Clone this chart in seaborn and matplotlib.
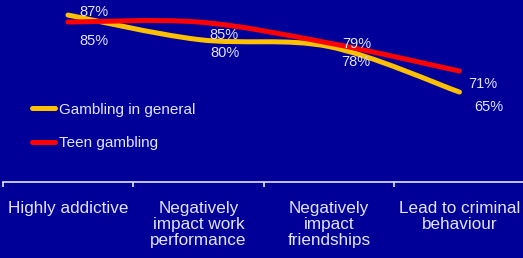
import matplotlib
matplotlib.use("Agg")
import matplotlib.pyplot as plt
from matplotlib.path import Path
from matplotlib.patches import PathPatch
import seaborn as sns
import pandas as pd

categories = ["Highly addictive", "Negatively\nimpact work\nperformance",
              "Negatively\nimpact\nfriendships", "Lead to criminal\nbehaviour"]
general = [87, 80, 78, 65]
teen = [85, 85, 79, 71]
series_names = ["Gambling in general", "Teen gambling"]

# label offsets (points) from each data point
general_offsets = [(19, 2), (19, -10), (19, -11), (21, -11)]
teen_offsets = [(19, -14), (18, -9), (20, -1), (17, -9)]

bg = "#000099"
txt = "#E4E4FF"
colors = {"Gambling in general": "#FFC000", "Teen gambling": "#FF0000"}

sns.set_theme(style="white")
plt.rcParams["font.family"] = ["Liberation Sans", "DejaVu Sans"]

df = pd.DataFrame({
    "pos": list(range(len(categories))) * 2,
    "value": general + teen,
    "series": [series_names[0]] * 4 + [series_names[1]] * 4,
})

fig = plt.figure(figsize=(5.23, 2.58), dpi=100, facecolor=bg)
ax = fig.add_axes([0, 76 / 258, 1, 182 / 258])
ax.set_facecolor(bg)

sns.lineplot(data=df, x="pos", y="value", hue="series", palette=colors,
             lw=3.6, ax=ax, legend=False)


def smooth_path(xs, ys, k=1 / 6):
    # Catmull-Rom style bezier through the data points
    n = len(xs)
    verts = [(xs[0], ys[0])]
    codes = [Path.MOVETO]
    for i in range(n - 1):
        x0, y0 = xs[max(i - 1, 0)], ys[max(i - 1, 0)]
        x3, y3 = xs[min(i + 2, n - 1)], ys[min(i + 2, n - 1)]
        c1 = (xs[i] + (xs[i + 1] - x0) * k, ys[i] + (ys[i + 1] - y0) * k)
        c2 = (xs[i + 1] - (x3 - xs[i]) * k, ys[i + 1] - (y3 - ys[i]) * k)
        verts += [c1, c2, (xs[i + 1], ys[i + 1])]
        codes += [Path.CURVE4] * 3
    return Path(verts, codes)


for line in list(ax.lines):
    xs, ys = line.get_xdata(), line.get_ydata()
    ax.add_patch(PathPatch(smooth_path(list(xs), list(ys)), fill=False,
                           edgecolor=line.get_color(), lw=3.6,
                           capstyle="round", joinstyle="round"))
    line.set_visible(False)

for vals, offs in [(general, general_offsets), (teen, teen_offsets)]:
    for i, (v, o) in enumerate(zip(vals, offs)):
        ax.annotate(f"{v}%", (i, v), xytext=o, textcoords="offset points",
                    ha="center", va="center", color=txt, fontsize=10.5)

ax.set_xlim(-0.521, 3.487)
ax.set_ylim(39.3, 91.3)
for s in ["left", "right", "top"]:
    ax.spines[s].set_visible(False)
ax.spines["bottom"].set_color(txt)
ax.spines["bottom"].set_linewidth(1.2)
ax.spines["bottom"].set_bounds(-0.5, 3.487)
ax.set_yticks([])
ax.set_xticks([-0.5, 0.5, 1.5, 2.5])
ax.set_xticklabels([])
ax.tick_params(axis="x", which="major", direction="out", length=3.6,
               width=1.2, color=txt, bottom=True)
ax.set_xticks(range(len(categories)), minor=True)
ax.set_xticklabels(categories, minor=True, fontsize=12.3, color=txt,
                   linespacing=1.05)
ax.tick_params(axis="x", which="minor", length=0, pad=14)
ax.set_xlabel("")
ax.set_ylabel("")

handles = [plt.Line2D([], [], color=colors[n], lw=3.6, solid_capstyle="round")
           for n in series_names]
fig.legend(handles, series_names, loc="center left",
           bbox_to_anchor=(32 / 523, 1 - 126.5 / 258), frameon=False,
           fontsize=11, labelcolor=txt, handlelength=1.5,
           handletextpad=0.25, labelspacing=1.3, borderpad=0, borderaxespad=0)

fig.savefig("out.png", dpi=100, facecolor=bg)
